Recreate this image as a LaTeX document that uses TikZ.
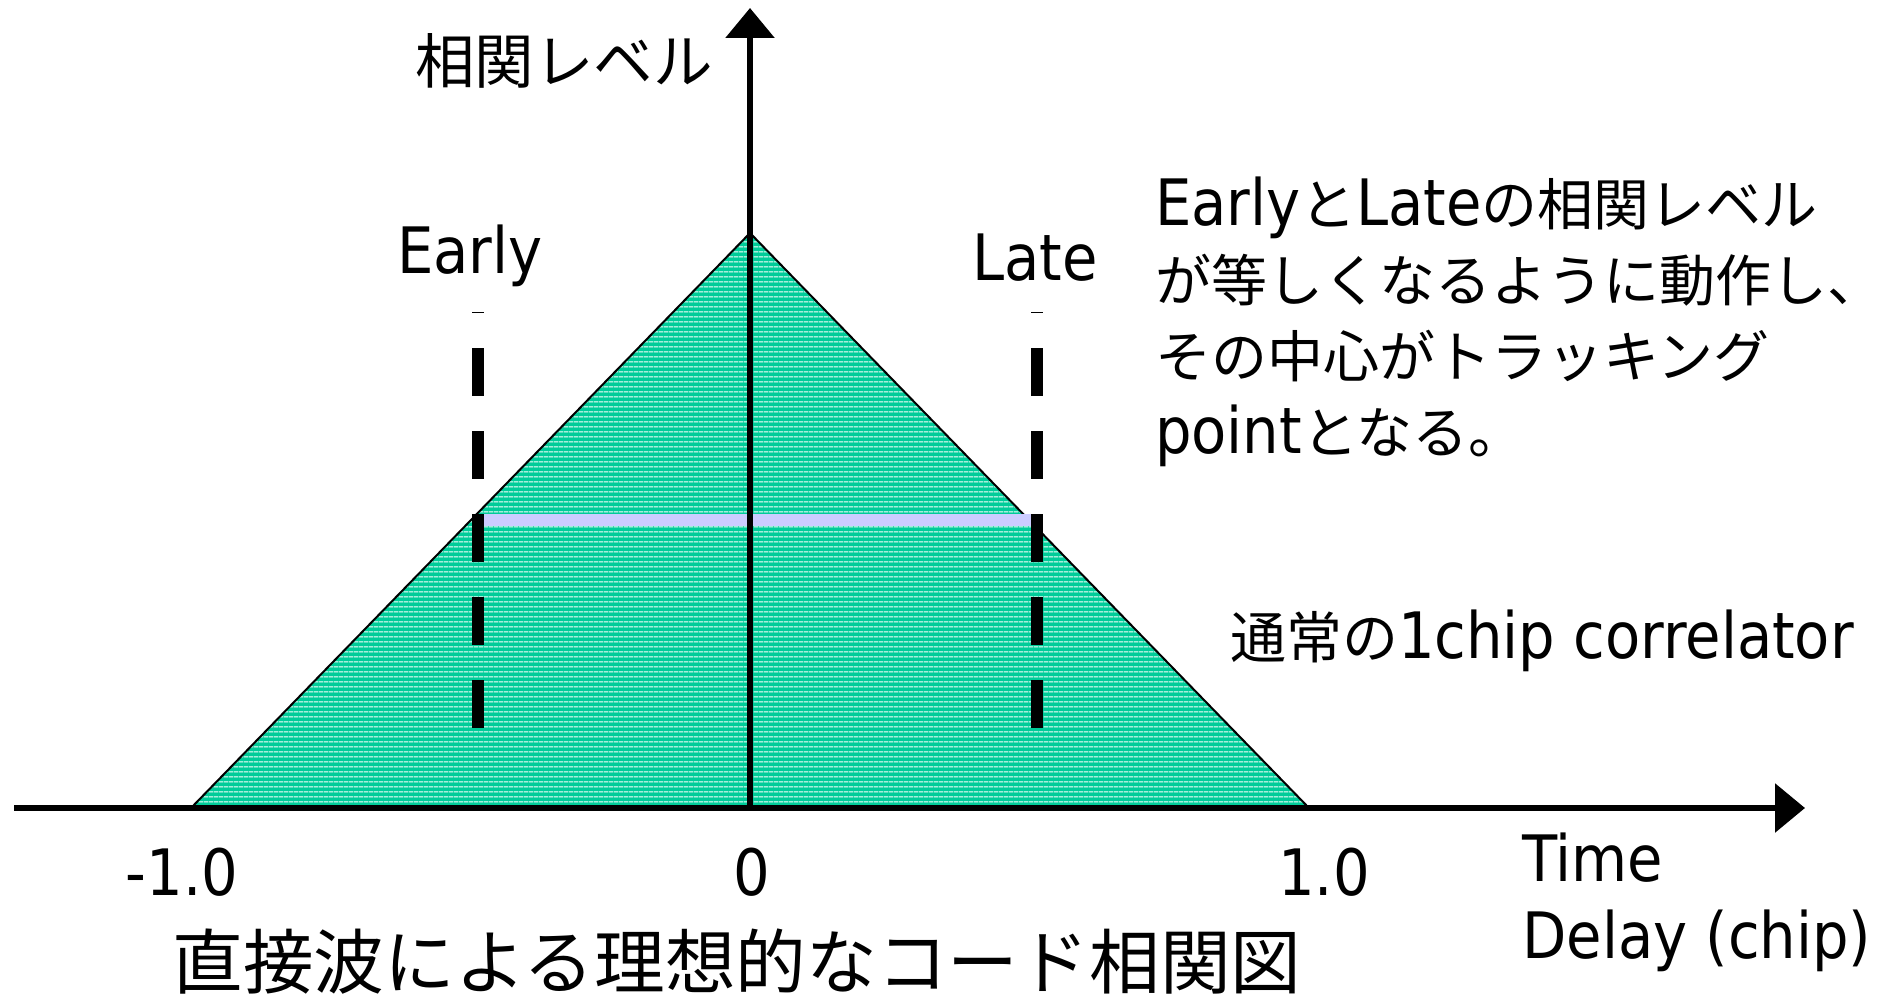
\documentclass[tikz,border=0pt]{standalone}
\usepackage{fontspec}
\setmainfont{DejaVu Sans Condensed}
\newfontfamily\jpfont[Scale=0.93]{Noto Sans CJK JP}
\newfontfamily\jpnotefont[Scale=0.875]{Noto Sans CJK JP}
\usetikzlibrary{arrows.meta,patterns.meta}
\definecolor{peakgreen}{RGB}{0,204,153}
\definecolor{bandblue}{RGB}{204,204,255}
\newcommand\ja[1]{{\jpfont #1}}
\newcommand\jn[1]{{\jpnotefont #1}}
\tikzset{
	axis/.style={line width=6pt, -{Triangle[length=30pt,width=48pt]}},
	lbl/.style={inner sep=0pt, anchor=base, font=\fontsize{64}{76}\selectfont},
	note/.style={inner sep=0pt, anchor=base west, font=\fontsize{64}{76}\selectfont},
	gate/.style={line width=12pt, dash pattern=on 48pt off 35pt, dash phase=47pt},
}

\begin{document}
\begin{tikzpicture}[x=1pt, y=-1pt]
			%%%%% START %%%%%
			\useasboundingbox (0, 0) rectangle (1887, 998);
			
			\coordinate (xstart) at (14, 808);
			\coordinate (xend) at (1805, 808);
			\coordinate (origin) at (750, 808);
			\coordinate (ytop) at (750, 8);
			
			\coordinate (peak) at (750, 233);
			\coordinate (left) at (191, 808);
			\coordinate (right) at (1309, 808);
			
			\coordinate (etop) at (477.5, 312);
			\coordinate (ebot) at (477.5, 728);
			\coordinate (ltop) at (1037, 312);
			\coordinate (lbot) at (1037, 728);
			\coordinate (eband) at (477.5, 520);
			\coordinate (lband) at (1037, 520);
			
			% correlation triangle
			\draw[line width=2pt, preaction={fill=peakgreen},
				pattern={Lines[angle=0, distance=4.67pt, line width=1pt]}, pattern color=white]
				(left) -- (peak) -- (right) -- cycle;
			
			\draw[line width=12pt, color=bandblue] (eband) -- (lband);
			
			\draw[gate] (etop) -- (ebot);
			\draw[gate] (ltop) -- (lbot);
			
			\draw[axis] (xstart) -- (xend);
			\draw[axis] (origin) -- (ytop);
			
			% labels
			\node[lbl, anchor=base west] (ylab) at (415, 84) {\ja{相関レベル}};
			\node[lbl] (early) at (470, 273) {Early};
			\node[lbl] (late) at (1035, 280) {Late};
			
			\node[note] (note1) at (1155, 225) {Early\jn{と}Late\jn{の相関レベル}};
			\node[note] (note2) at (1155, 301) {\jn{が等しくなるように動作し、}};
			\node[note] (note3) at (1155, 377) {\jn{その中心がトラッキング}};
			\node[note] (note4) at (1155, 453) {point\jn{となる。}};
			
			\node[note] (corr) at (1230, 658) {\jn{通常の}1chip correlator};
			
			\node[lbl] (tickm) at (182, 895) {-1.0};
			\node[lbl] (tick0) at (752, 895) {0};
			\node[lbl] (tickp) at (1324, 895) {1.0};
			
			\node[lbl, anchor=base west] (time) at (1522, 881) {Time};
			\node[lbl, anchor=base west] (delay) at (1522, 958) {Delay (chip)};
			
			\node[lbl, font=\fontsize{76}{80}\selectfont] (caption) at (737, 988) {\ja{直接波による理想的なコード相関図}};
			%%%%% END %%%%%
\end{tikzpicture}
\end{document}
